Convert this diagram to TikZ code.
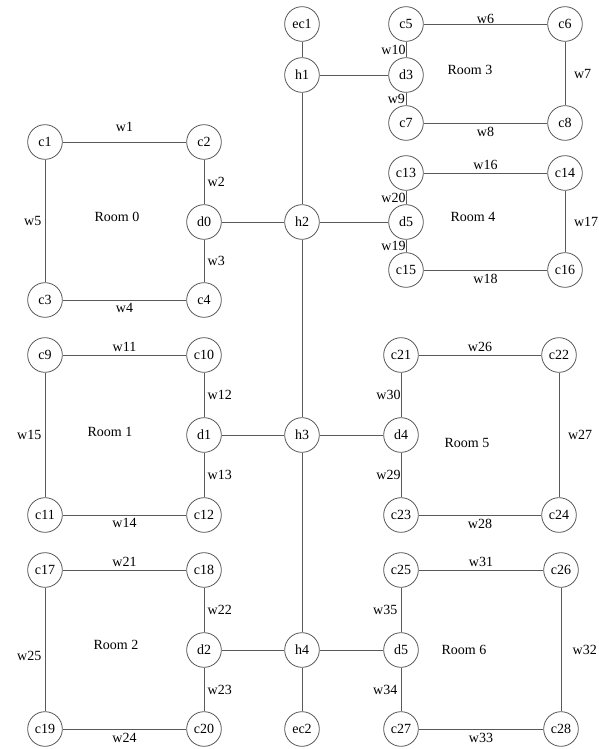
\documentclass[tikz,border=0pt]{standalone}
\usepackage{fontspec}
\setmainfont{Liberation Serif}
\usepackage{tikz}
\usetikzlibrary{positioning}

\begin{document}
\begin{tikzpicture}[x=0.75pt,y=-0.75pt,
  font=\fontsize{10.5}{12}\selectfont,
  pt/.style={draw=black!65,circle,line width=0.6pt,minimum size=26pt,inner sep=0pt,fill=white},
  wl/.style={inner sep=2.5pt},
  rm/.style={inner sep=0pt},
  ln/.style={draw=black!65,line width=0.6pt}]
\useasboundingbox (0,0) rectangle (599,749);
\node[pt] (ec1) at (302,24)  {ec1};
\node[pt] (h1)  at (302,75)  {h1};
\node[pt] (h2)  at (302,222) {h2};
\node[pt] (h3)  at (302,435) {h3};
\node[pt] (h4)  at (302,650) {h4};
\node[pt] (ec2) at (302,729) {ec2};
\node[pt] (c1)  at (45,142)  {c1};
\node[pt] (c2)  at (204,142) {c2};
\node[pt] (d0)  at (204,222) {d0};
\node[pt] (c3)  at (45,300)  {c3};
\node[pt] (c4)  at (204,300) {c4};
\node[pt] (c9)  at (45,355)  {c9};
\node[pt] (c10) at (204,355) {c10};
\node[pt] (d1)  at (204,435) {d1};
\node[pt] (c11) at (45,515)  {c11};
\node[pt] (c12) at (204,515) {c12};
\node[pt] (c17) at (45,570)  {c17};
\node[pt] (c18) at (204,570) {c18};
\node[pt] (d2)  at (204,650) {d2};
\node[pt] (c19) at (45,729)  {c19};
\node[pt] (c20) at (204,729) {c20};
\node[pt] (c5)  at (406,24)  {c5};
\node[pt] (c6)  at (565,24)  {c6};
\node[pt] (d3)  at (406,75)  {d3};
\node[pt] (c7)  at (406,123) {c7};
\node[pt] (c8)  at (565,123) {c8};
\node[pt] (c13) at (406,173) {c13};
\node[pt] (c14) at (565,173) {c14};
\node[pt] (d5)  at (406,222) {d5};
\node[pt] (c15) at (406,270) {c15};
\node[pt] (c16) at (565,270) {c16};
\node[pt] (c21) at (401,355) {c21};
\node[pt] (c22) at (559,355) {c22};
\node[pt] (d4)  at (401,435) {d4};
\node[pt] (c23) at (401,515) {c23};
\node[pt] (c24) at (559,515) {c24};
\node[pt] (c25) at (401,570) {c25};
\node[pt] (c26) at (561,570) {c26};
\node[pt] (d6)  at (401,650) {d5};
\node[pt] (c27) at (401,729) {c27};
\node[pt] (c28) at (561,729) {c28};
\node[rm] (r0) at (117,217) {Room 0};
\node[rm] (r1) at (110,432) {Room 1};
\node[rm] (r2) at (116,645) {Room 2};
\node[rm] (r3) at (470,70)  {Room 3};
\node[rm] (r4) at (473,217) {Room 4};
\node[rm] (r5) at (467,443) {Room 5};
\node[rm] (r6) at (464,650) {Room 6};
\draw[ln] (ec1)--(h1);
\draw[ln] (h1)--(h2);
\draw[ln] (h2)--(h3);
\draw[ln] (h3)--(h4);
\draw[ln] (h4)--(ec2);
\draw[ln] (d0)--(h2);
\draw[ln] (d1)--(h3);
\draw[ln] (d2)--(h4);
\draw[ln] (h1)--(d3);
\draw[ln] (h2)--(d5);
\draw[ln] (h3)--(d4);
\draw[ln] (h4)--(d6);
\draw[ln] (c1)--node[wl,above=5pt]{w1}(c2);
\draw[ln] (c2)--node[wl,right]{w2}(d0);
\draw[ln] (d0)--node[wl,right]{w3}(c4);
\draw[ln] (c3)--node[wl,below]{w4}(c4);
\draw[ln] (c1)--node[wl,left]{w5}(c3);
\draw[ln] (c9)--node[wl,above]{w11}(c10);
\draw[ln] (c10)--node[wl,right]{w12}(d1);
\draw[ln] (d1)--node[wl,right]{w13}(c12);
\draw[ln] (c11)--node[wl,below]{w14}(c12);
\draw[ln] (c9)--node[wl,left]{w15}(c11);
\draw[ln] (c17)--node[wl,above]{w21}(c18);
\draw[ln] (c18)--node[wl,right]{w22}(d2);
\draw[ln] (d2)--node[wl,right]{w23}(c20);
\draw[ln] (c19)--node[wl,below]{w24}(c20);
\draw[ln] (c17)--node[wl,left,pos=0.55]{w25}(c19);
\draw[ln] (c5)--node[wl,above,inner sep=0pt]{w6}(c6);
\draw[ln] (c6)--node[wl,right=4pt]{w7}(c8);
\draw[ln] (c7)--node[wl,below]{w8}(c8);
\draw[ln] (d3)--node[wl,left,inner sep=0.5pt]{w9}(c7);
\draw[ln] (c5)--node[wl,left,inner sep=0pt]{w10}(d3);
\draw[ln] (c13)--node[wl,above]{w16}(c14);
\draw[ln] (c14)--node[wl,right=4pt]{w17}(c16);
\draw[ln] (c15)--node[wl,below]{w18}(c16);
\draw[ln] (d5)--node[wl,left,inner sep=0pt]{w19}(c15);
\draw[ln] (c13)--node[wl,left,inner sep=0pt]{w20}(d5);
\draw[ln] (c21)--node[wl,above]{w26}(c22);
\draw[ln] (c22)--node[wl,right=4pt]{w27}(c24);
\draw[ln] (c23)--node[wl,below]{w28}(c24);
\draw[ln] (d4)--node[wl,left,inner sep=0pt]{w29}(c23);
\draw[ln] (c21)--node[wl,left,inner sep=0pt]{w30}(d4);
\draw[ln] (c25)--node[wl,above]{w31}(c26);
\draw[ln] (c26)--node[wl,right=6pt]{w32}(c28);
\draw[ln] (c27)--node[wl,below]{w33}(c28);
\draw[ln] (d6)--node[wl,left]{w34}(c27);
\draw[ln] (c25)--node[wl,left]{w35}(d6);
\end{tikzpicture}
\end{document}
